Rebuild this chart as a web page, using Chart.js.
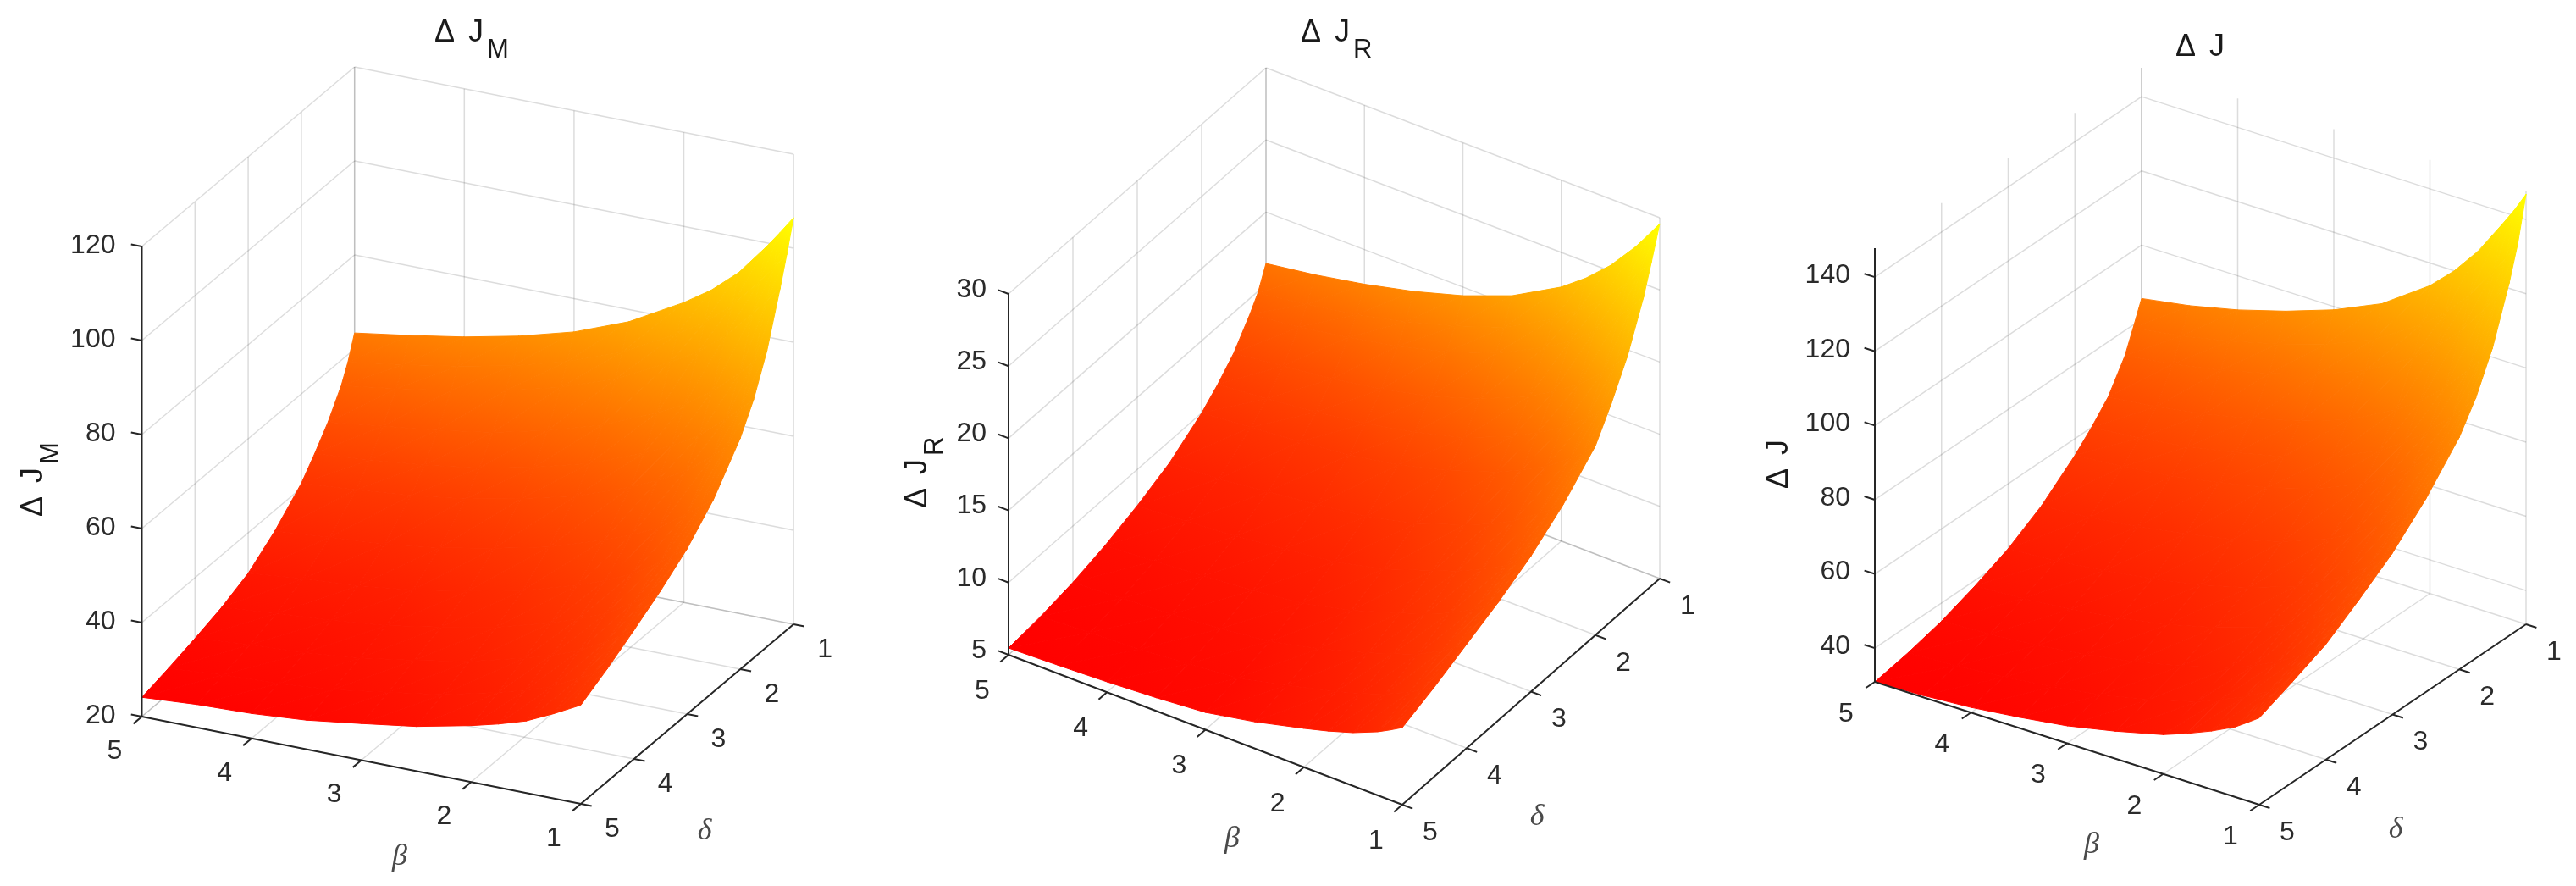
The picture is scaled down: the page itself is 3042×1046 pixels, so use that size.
<!DOCTYPE html>
<html>
<head>
<meta charset="utf-8">
<title>Delta J surfaces</title>
<script src="https://cdn.jsdelivr.net/npm/chart.js@4/dist/chart.umd.min.js"></script>
<style>
  html, body { margin: 0; background: #fff; }
  #page { position: relative; width: 3042px; height: 1046px; overflow: hidden; }
  canvas { position: absolute; top: 0; filter: blur(0.5px); }
</style>
</head>
<body>
<div id="page">
  <canvas id="panelM" width="1014" height="1046" style="left:0"></canvas>
  <canvas id="panelR" width="1014" height="1046" style="left:1014px"></canvas>
  <canvas id="panelJ" width="1014" height="1046" style="left:2028px"></canvas>
</div>
<script>
// Data
const betaTicks = [5, 4, 3, 2, 1];
const deltaTicks = [1, 2, 3, 4, 5];
const zTicksM = [20, 40, 60, 80, 100, 120];
const zTicksR = [5, 10, 15, 20, 25, 30];
const zTicksJ = [40, 60, 80, 100, 120, 140];

// surface nodes: rows follow deltaNodes, columns follow betaNodes
const betaNodes = [5, 4.5, 4, 3.5, 3, 2.5, 2, 1.75, 1.5, 1.25, 1.125, 1];
const deltaNodes = [5, 4.5, 4, 3.5, 3, 2.5, 2, 1.75, 1.5, 1.25, 1.125, 1];

const surfaceM = [
  [24.1, 24.9, 25.3, 26.2, 27.8, 29.5, 32.0, 33.5, 35.3, 38.0, 39.5, 41.0],
  [25.5, 26.4, 26.9, 27.9, 29.7, 31.5, 34.3, 35.9, 37.9, 40.8, 42.4, 44.0],
  [27.1, 28.1, 28.7, 29.9, 31.7, 33.8, 36.8, 38.6, 40.7, 43.9, 45.6, 47.4],
  [28.9, 30.0, 30.8, 32.0, 34.0, 36.3, 39.5, 41.5, 43.8, 47.2, 49.1, 51.0],
  [31.4, 32.6, 33.4, 34.8, 36.9, 39.3, 42.8, 44.9, 47.5, 51.1, 53.2, 55.2],
  [35.6, 36.6, 37.5, 39.0, 41.2, 43.8, 47.6, 49.8, 52.6, 56.6, 58.8, 61.0],
  [41.0, 41.9, 43.0, 44.6, 47.0, 49.9, 54.1, 56.7, 59.8, 64.2, 66.7, 69.2],
  [44.9, 45.9, 47.1, 48.8, 51.3, 54.4, 58.9, 61.6, 65.0, 69.8, 72.3, 75.0],
  [49.2, 50.7, 52.1, 54.0, 56.7, 60.2, 65.2, 68.1, 71.9, 77.1, 79.9, 83.0],
  [54.6, 56.3, 58.2, 60.5, 63.5, 67.7, 73.5, 76.9, 81.4, 87.3, 90.6, 94.0],
  [58.4, 60.2, 62.2, 64.6, 67.8, 72.1, 78.3, 81.9, 86.6, 92.9, 96.3, 100.0],
  [63.4, 65.2, 67.2, 69.7, 72.9, 77.4, 83.8, 87.6, 92.5, 99.1, 102.7, 106.5]
];
const surfaceR = [
  [5.47, 5.58, 5.72, 5.92, 6.2, 6.85, 7.69, 8.15, 8.69, 9.4, 9.85, 10.34],
  [5.7, 5.9, 6.0, 6.3, 6.6, 7.4, 8.3, 8.8, 9.4, 10.2, 10.7, 11.2],
  [6.1, 6.3, 6.5, 6.8, 7.2, 8.0, 9.0, 9.6, 10.2, 11.1, 11.6, 12.2],
  [6.7, 6.9, 7.2, 7.5, 7.9, 8.7, 9.8, 10.4, 11.1, 12.0, 12.6, 13.2],
  [7.5, 7.7, 8.0, 8.4, 8.8, 9.6, 10.8, 11.4, 12.2, 13.1, 13.8, 14.4],
  [8.5, 8.7, 9.1, 9.5, 10.0, 10.8, 12.0, 12.7, 13.6, 14.7, 15.3, 16.0],
  [10.0, 10.3, 10.6, 11.0, 11.6, 12.5, 13.7, 14.5, 15.4, 16.6, 17.3, 18.1],
  [11.0, 11.3, 11.7, 12.2, 12.9, 13.8, 15.2, 16.1, 17.1, 18.4, 19.2, 20.1],
  [12.2, 12.6, 13.0, 13.6, 14.4, 15.5, 17.0, 18.0, 19.1, 20.6, 21.5, 22.4],
  [13.9, 14.3, 14.9, 15.6, 16.5, 17.7, 19.4, 20.5, 21.8, 23.5, 24.5, 25.5],
  [14.9, 15.4, 16.0, 16.8, 17.8, 19.0, 20.9, 22.1, 23.5, 25.3, 26.4, 27.5],
  [16.44, 16.95, 17.6, 18.4, 19.4, 20.7, 22.6, 23.87, 25.4, 27.31, 28.43, 29.59]
];
const surfaceJ = [
  [30.9, 31.4, 32.3, 33.8, 35.6, 38.3, 41.5, 43.9, 46.6, 49.8, 52.0, 54.3],
  [32.7, 33.3, 34.4, 36.0, 37.9, 40.8, 44.3, 46.9, 49.8, 53.3, 55.6, 58.0],
  [35.1, 35.8, 36.9, 38.6, 40.7, 43.7, 47.4, 50.1, 53.2, 57.0, 59.4, 62.0],
  [38.5, 39.3, 40.6, 42.4, 44.7, 48.0, 52.1, 55.0, 58.5, 62.6, 65.2, 68.0],
  [42.5, 43.4, 44.8, 46.8, 49.3, 52.7, 57.2, 60.4, 64.1, 68.7, 71.5, 74.5],
  [48.0, 49.0, 50.6, 52.8, 55.4, 59.0, 64.0, 67.5, 71.6, 76.7, 79.7, 83.0],
  [55.5, 56.6, 58.2, 60.6, 63.4, 67.2, 72.7, 76.5, 81.1, 86.8, 90.0, 93.5],
  [60.0, 61.2, 63.1, 65.6, 68.6, 72.7, 78.6, 82.8, 87.8, 94.0, 97.4, 101.2],
  [65.2, 66.7, 68.9, 71.7, 75.2, 79.7, 86.5, 91.0, 96.6, 103.6, 107.3, 111.6],
  [73.2, 75.1, 77.6, 80.9, 84.8, 89.9, 97.6, 102.8, 109.1, 117.1, 121.3, 126.1],
  [79.3, 81.2, 83.9, 87.3, 91.4, 96.7, 104.9, 110.3, 117.1, 125.5, 129.9, 134.9],
  [85.6, 87.8, 90.8, 94.6, 99.1, 104.9, 113.9, 119.9, 127.3, 136.6, 141.4, 146.8]
];

const SANS = '"Liberation Sans", Arial, sans-serif';
const SERIF = '"Liberation Serif", serif';
const GRID = 'rgba(38,38,38,0.16)';
const AXIS = '#262626';
const TEXT = '#2b2b2b';
const TICK_LEN = 13;

// box projection for each panel: origin is beta=5, delta=5, z=zBase
const panels = [
  {
    id: 'panelM', main: '\u0394 J', sub: 'M', zTicks: zTicksM, surface: surfaceM,
    ox: 167.5, oy: 846, bx: 129.6, by: 25.75, dx: 62.8, dy: -53, zBase: 20, zTop: 120, zs: 5.55,
    zLabelDx: -31, zLabelDy: -1, betaLabel: [-32, 41], deltaLabel: [37, 30],
    titleAt: [513, 49], ylabelAt: [50, 610], betaAt: [472, 1012], deltaAt: [832, 982]
  },
  {
    id: 'panelR', main: '\u0394 J', sub: 'R', zTicks: zTicksR, surface: surfaceR,
    ox: 177, oy: 773, bx: 116.25, by: 44.25, dx: 76, dy: -66.75, zBase: 5, zTop: 30, zs: 17.04,
    zLabelDx: -26, zLabelDy: -5, betaLabel: [-31, 43], deltaLabel: [33, 33],
    titleAt: [522, 49], ylabelAt: [80, 600], betaAt: [441, 991], deltaAt: [801, 965]
  },
  {
    id: 'panelJ', main: '\u0394 J', sub: '', zTicks: zTicksJ, surface: surfaceJ,
    ox: 186, oy: 805, bx: 113.5, by: 36.25, dx: 78.75, dy: -53.25, zBase: 30.9, zTop: 147.8, zs: 4.38,
    zLabelDx: -29, zLabelDy: -2, betaLabel: [-34, 38], deltaLabel: [33, 33],
    titleAt: [541, 66], ylabelAt: [83, 577], betaAt: [442, 998], deltaAt: [801, 980]
  }
];

// 3D (beta, delta, z) to the flat coordinates the hidden scales run on
function project(p, beta, delta, z) {
  return {
    x: p.ox + (5 - beta) * p.bx + (5 - delta) * p.dx,
    y: p.oy + (5 - beta) * p.by + (5 - delta) * p.dy - (z - p.zBase) * p.zs
  };
}

function lineSet(points, color, width, order) {
  return {
    data: points, showLine: true, pointRadius: 0, fill: false,
    borderColor: color, borderWidth: width, order: order, borderCapStyle: 'butt'
  };
}

// autumn colormap, linear in z
function autumn(g) {
  return `rgb(255,${Math.round(g)},0)`;
}

// one triangle gets a linear gradient, so colour is continuous across the surface
function triangleFill(chart, tri) {
  const xs = chart.scales.x, ys = chart.scales.y;
  const flat = autumn((tri[0].g + tri[1].g + tri[2].g) / 3);
  if (!chart.chartArea || !xs || !ys) return flat;
  const v = tri.map(t => ({ x: xs.getPixelForValue(t.x), y: ys.getPixelForValue(t.y), g: t.g }));
  if (v.some(t => !isFinite(t.x) || !isFinite(t.y))) return flat;
  const ax = v[1].x - v[0].x, ay = v[1].y - v[0].y, ag = v[1].g - v[0].g;
  const bx = v[2].x - v[0].x, by = v[2].y - v[0].y, bg = v[2].g - v[0].g;
  const det = ax * by - ay * bx;
  if (Math.abs(det) < 1e-6) return flat;
  const gx = (ag * by - bg * ay) / det;
  const gy = (bg * ax - ag * bx) / det;
  const mag2 = gx * gx + gy * gy;
  if (mag2 < 1e-9) return flat;
  const low = v.reduce((m, t) => (t.g < m.g ? t : m));
  const high = v.reduce((m, t) => (t.g > m.g ? t : m));
  const k = (high.g - low.g) / mag2;
  const grad = chart.ctx.createLinearGradient(low.x, low.y, low.x + gx * k, low.y + gy * k);
  grad.addColorStop(0, autumn(low.g));
  grad.addColorStop(1, autumn(high.g));
  return grad;
}

function surfaceSets(p) {
  const all = p.surface.flat();
  const zMin = Math.min(...all), zMax = Math.max(...all);
  const node = (i, j) => {
    const z = p.surface[i][j];
    const pt = project(p, betaNodes[j], deltaNodes[i], z);
    return { x: pt.x, y: pt.y, g: 255 * (z - zMin) / (zMax - zMin) };
  };
  const sets = [];
  for (let i = 0; i < deltaNodes.length - 1; i++) {
    for (let j = 0; j < betaNodes.length - 1; j++) {
      const a = node(i, j), b = node(i, j + 1), c = node(i + 1, j + 1), d = node(i + 1, j);
      [[a, b, c], [a, c, d]].forEach(tri => {
        sets.push({
          data: [tri[0], tri[1], tri[2], tri[0]].map(t => ({ x: t.x, y: t.y })),
          showLine: true, pointRadius: 0, fill: 'shape', order: 2,
          borderWidth: 1, borderJoinStyle: 'round',
          backgroundColor: ctx => triangleFill(ctx.chart, tri),
          borderColor: ctx => triangleFill(ctx.chart, tri)
        });
      });
    }
  }
  return sets;
}

function gridSets(p) {
  const sets = [];
  const seg = (a, b) => sets.push(lineSet([a, b], GRID, 1.5, 3));
  // floor
  betaTicks.forEach(b => seg(project(p, b, 5, p.zBase), project(p, b, 1, p.zBase)));
  deltaTicks.forEach(d => seg(project(p, 5, d, p.zBase), project(p, 1, d, p.zBase)));
  // wall at beta=5
  deltaTicks.slice(0, 4).forEach(d => seg(project(p, 5, d, p.zBase), project(p, 5, d, p.zTop)));
  p.zTicks.forEach(z => seg(project(p, 5, 5, z), project(p, 5, 1, z)));
  // wall at delta=1
  betaTicks.forEach(b => seg(project(p, b, 1, p.zBase), project(p, b, 1, p.zTop)));
  p.zTicks.forEach(z => seg(project(p, 5, 1, z), project(p, 1, 1, z)));
  return sets;
}

function axisSets(p) {
  const sets = [];
  const seg = (a, b) => sets.push(lineSet([a, b], AXIS, 2, 1));
  seg(project(p, 5, 5, p.zBase), project(p, 1, 5, p.zBase));
  seg(project(p, 1, 5, p.zBase), project(p, 1, 1, p.zBase));
  seg(project(p, 5, 5, p.zBase), project(p, 5, 5, p.zTop));
  const dLen = TICK_LEN / Math.hypot(p.dx, p.dy);
  const bLen = TICK_LEN / Math.hypot(p.bx, p.by);
  betaTicks.forEach(b => seg(project(p, b, 5, p.zBase), project(p, b, 5 + dLen, p.zBase)));
  deltaTicks.forEach(d => seg(project(p, 1, d, p.zBase), project(p, 1 - bLen, d, p.zBase)));
  p.zTicks.forEach(z => seg(project(p, 5, 5, z), project(p, 5 + bLen, 5, z)));
  return sets;
}

// "Δ J" with a lowered subscript, at a baseline start point
function richText(ctx, x, y, rotation, main, sub) {
  ctx.save();
  ctx.translate(x, y);
  ctx.rotate(rotation);
  ctx.fillStyle = '#1a1a1a';
  ctx.textAlign = 'left';
  ctx.textBaseline = 'alphabetic';
  ctx.font = `36px ${SANS}`;
  ctx.wordSpacing = '6px';
  ctx.fillText(main, 0, 0);
  if (sub) {
    const w = ctx.measureText(main).width;
    ctx.font = `31px ${SANS}`;
    ctx.fillText(sub, w + 4, 19);
  }
  ctx.restore();
}

const labelsPlugin = {
  id: 'boxLabels',
  afterDraw(chart, args, opts) {
    const p = opts.panel;
    const { ctx, scales: { x, y } } = chart;
    const px = pt => ({ x: x.getPixelForValue(pt.x), y: y.getPixelForValue(pt.y) });
    ctx.save();
    ctx.fillStyle = TEXT;
    ctx.textBaseline = 'middle';
    ctx.font = `32px ${SANS}`;
    ctx.textAlign = 'right';
    p.zTicks.forEach(z => {
      const a = px(project(p, 5, 5, z));
      ctx.fillText(String(z), a.x + p.zLabelDx, a.y + p.zLabelDy);
    });
    ctx.textAlign = 'center';
    betaTicks.forEach(b => {
      const a = px(project(p, b, 5, p.zBase));
      ctx.fillText(String(b), a.x + p.betaLabel[0], a.y + p.betaLabel[1]);
    });
    deltaTicks.forEach(d => {
      const a = px(project(p, 1, d, p.zBase));
      ctx.fillText(String(d), a.x + p.deltaLabel[0], a.y + p.deltaLabel[1]);
    });
    ctx.fillStyle = '#4a4a4a';
    ctx.font = `italic 36px ${SERIF}`;
    ctx.fillText('\u03B2', x.getPixelForValue(p.betaAt[0]), y.getPixelForValue(p.betaAt[1]));
    ctx.fillText('\u03B4', x.getPixelForValue(p.deltaAt[0]), y.getPixelForValue(p.deltaAt[1]));
    ctx.restore();
    richText(ctx, p.titleAt[0], p.titleAt[1], 0, p.main, p.sub);
    richText(ctx, p.ylabelAt[0], p.ylabelAt[1], -Math.PI / 2, p.main, p.sub);
  }
};

panels.forEach(p => {
  const canvas = document.getElementById(p.id);
  new Chart(canvas.getContext('2d'), {
    type: 'scatter',
    data: { datasets: [...axisSets(p), ...surfaceSets(p), ...gridSets(p)] },
    plugins: [labelsPlugin],
    options: {
      responsive: false,
      animation: false,
      devicePixelRatio: 1,
      events: [],
      layout: { padding: 0 },
      plugins: {
        legend: { display: false },
        tooltip: { enabled: false },
        boxLabels: { panel: p }
      },
      scales: {
        x: { type: 'linear', min: 0, max: canvas.width, display: false },
        y: { type: 'linear', min: 0, max: canvas.height, reverse: true, display: false }
      }
    }
  });
});
</script>
</body>
</html>
